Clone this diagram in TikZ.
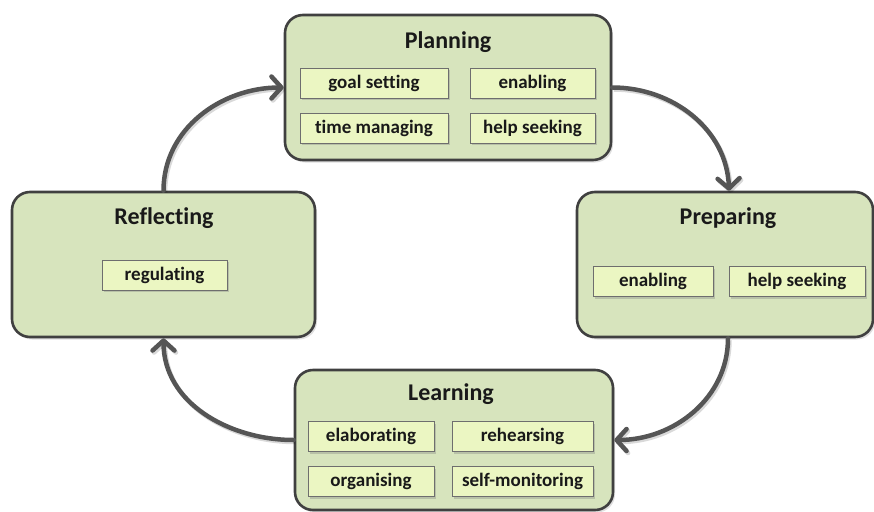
\documentclass[tikz,border=0pt]{standalone}
\usepackage{fontspec}
\setmainfont{Carlito}[Ligatures=NoCommon]
\usetikzlibrary{shadows,arrows.meta}
\definecolor{outerfill}{HTML}{D7E4BD}
\definecolor{innerfill}{HTML}{EBF6C2}
\definecolor{edgec}{HTML}{404040}
\definecolor{inneredge}{HTML}{6E6E6E}
\definecolor{arrowc}{HTML}{555555}
\begin{document}
\begin{tikzpicture}[x=1pt,y=-1pt,
  phase/.style={draw=edgec, line width=2.6pt, fill=outerfill, rounded corners=18pt,
    drop shadow={shadow xshift=2pt, shadow yshift=-2.5pt, opacity=0.25}},
  phasetitle/.style={font=\bfseries\fontsize{24}{28}\selectfont, text=black!90},
  item/.style={draw=inneredge, line width=0.9pt, fill=innerfill, inner sep=0pt,
    minimum height=30pt, font=\bfseries\fontsize{19}{22}\selectfont, text=black!90,
    drop shadow={shadow xshift=2pt, shadow yshift=-2pt, opacity=0.35}},
  flow/.style={draw=arrowc, line width=4.5pt, line cap=round,
    -{Straight Barb[length=10pt,width=22pt,round]},
    preaction={draw=black, opacity=0.15, line width=4.5pt, transform canvas={shift={(1.5pt,-2pt)}}}}
]
\useasboundingbox (0,0) rectangle (874,511);

% phase boxes
\node[phase, minimum width=326pt, minimum height=145pt] (plan) at (448,87.5) {};
\node[phase, minimum width=296pt, minimum height=145pt] (prep) at (725,264.5) {};
\node[phase, minimum width=303pt, minimum height=145pt] (refl) at (163.5,264.5) {};
\node[phase, minimum width=318pt, minimum height=140pt] (learn) at (454,440) {};

% titles
\node[phasetitle] (plant) at (448,42) {Planning};
\node[phasetitle] (prept) at (728,218) {Preparing};
\node[phasetitle] (reflt) at (164,218) {Reflecting};
\node[phasetitle] (learnt) at (451,394) {Learning};

% Planning items
\node[item, minimum width=148pt] (gs) at (374,83) {goal setting};
\node[item, minimum width=125pt] (en1) at (532.5,83) {enabling};
\node[item, minimum width=148pt] (tm) at (374,128) {time managing};
\node[item, minimum width=125pt] (hs1) at (532.5,128) {help seeking};

% Preparing items
\node[item, minimum width=120pt] (en2) at (653,281.5) {enabling};
\node[item, minimum width=136pt] (hs2) at (797,281.5) {help seeking};

% Reflecting items
\node[item, minimum width=125pt] (reg) at (164.5,275) {regulating};

% Learning items
\node[item, minimum width=126pt] (ela) at (371,436.5) {elaborating};
\node[item, minimum width=141pt] (reh) at (522.5,436.5) {rehearsing};
\node[item, minimum width=126pt] (org) at (371,481.5) {organising};
\node[item, minimum width=141pt] (smo) at (522.5,481.5) {self-monitoring};

% cycle arrows
\draw[flow] (plan.east) to[out=0,in=92] ([xshift=4pt]prep.north);
\draw[flow] ([xshift=3pt]prep.south) to[out=-90,in=0] (learn.east);
\draw[flow] (learn.west) to[out=180,in=-90] (refl.south);
\draw[flow] (refl.north) to[out=90,in=180] (plan.west);
\end{tikzpicture}
\end{document}
